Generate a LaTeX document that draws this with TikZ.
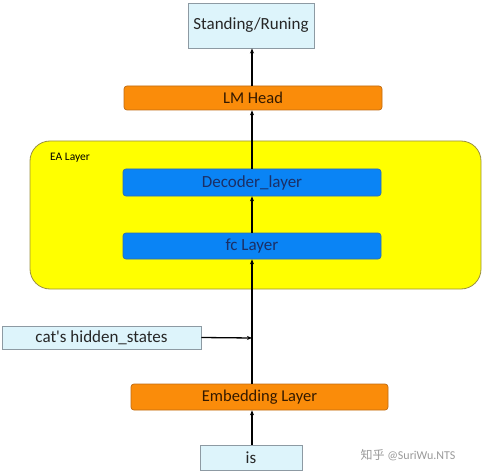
\documentclass[tikz,border=0pt]{standalone}
\usepackage{fontspec}
\setmainfont{Carlito}
\newfontfamily\cjkfont{Noto Sans CJK SC}
\usetikzlibrary{arrows.meta}
\definecolor{lblue}{HTML}{DDF4FB}
\definecolor{lborder}{HTML}{8D9AA3}
\definecolor{orng}{HTML}{FA8C0A}
\definecolor{orngb}{HTML}{C06A10}
\definecolor{bluef}{HTML}{0A84F5}
\definecolor{blueb}{HTML}{2F6DB0}
\definecolor{navy}{HTML}{1B2F66}
\definecolor{ylw}{HTML}{FFFF00}
\definecolor{ylwb}{HTML}{9A9040}
\begin{document}
\begin{tikzpicture}[x=1pt,y=-1pt,
  io/.style={draw=lborder,line width=0.9pt,fill=lblue,inner sep=0pt,font=\fontsize{17}{20}\selectfont,text=black!85},
  orbox/.style={draw=orngb,line width=0.7pt,fill=orng,rounded corners=3pt,inner sep=0pt,font=\fontsize{16.5}{20}\selectfont,text=black!80!orange},
  blbox/.style={draw=blueb,line width=0.7pt,fill=bluef,rounded corners=3pt,inner sep=0pt,font=\fontsize{17}{20}\selectfont,text=navy},
  arr/.style={-{Stealth[length=5pt,width=4pt]},line width=1.3pt,black}]
\useasboundingbox (0,0) rectangle (490,476);
% EA layer container
\node[draw=ylwb,line width=0.8pt,fill=ylw,rounded corners=20pt,minimum width=451pt,minimum height=148pt,inner sep=0pt] (ea) at (255.5,215) {};
\node[font=\fontsize{11.5}{13}\selectfont,anchor=west,inner sep=0pt] (ealabel) at (50,158) {EA Layer};
% nodes
\node[io,minimum width=126pt,minimum height=45pt] (out) at (251,25.5) {Standing/Runing};
\node[orbox,minimum width=258pt,minimum height=24pt] (lm) at (253,98) {LM Head};
\node[blbox,minimum width=258pt,minimum height=27pt] (dec) at (252,182.5) {Decoder\_layer};
\node[blbox,minimum width=258pt,minimum height=26pt] (fc) at (252,246) {fc Layer};
\node[io,minimum width=199pt,minimum height=23pt] (cat) at (101.5,337.5) {cat\textquotesingle s hidden\_states};
\node[orbox,minimum width=257pt,minimum height=26pt] (emb) at (259.5,397) {Embedding Layer};
\node[io,minimum width=102pt,minimum height=25pt] (is) at (251,457.5) {is};
\coordinate (join) at (252,338);
% connectors
\draw[arr] (is.north -| 252,0) -- (emb.south -| 252,0);
\draw[arr] (emb.north -| 252,0) -- (fc.south -| 252,0);
\draw[arr] (cat.east) -- (join);
\draw[arr] (fc.north -| 252,0) -- (dec.south -| 252,0);
\draw[arr] (dec.north -| 252,0) -- (lm.south -| 252,0);
\draw[arr] (lm.north -| 252,0) -- (out.south -| 252,0);
% watermark
\node[anchor=west,text=black!40,font=\fontsize{12}{14}\selectfont] (wm) at (357,455) {{\cjkfont 知乎} @SuriWu.NTS};
\end{tikzpicture}
\end{document}
